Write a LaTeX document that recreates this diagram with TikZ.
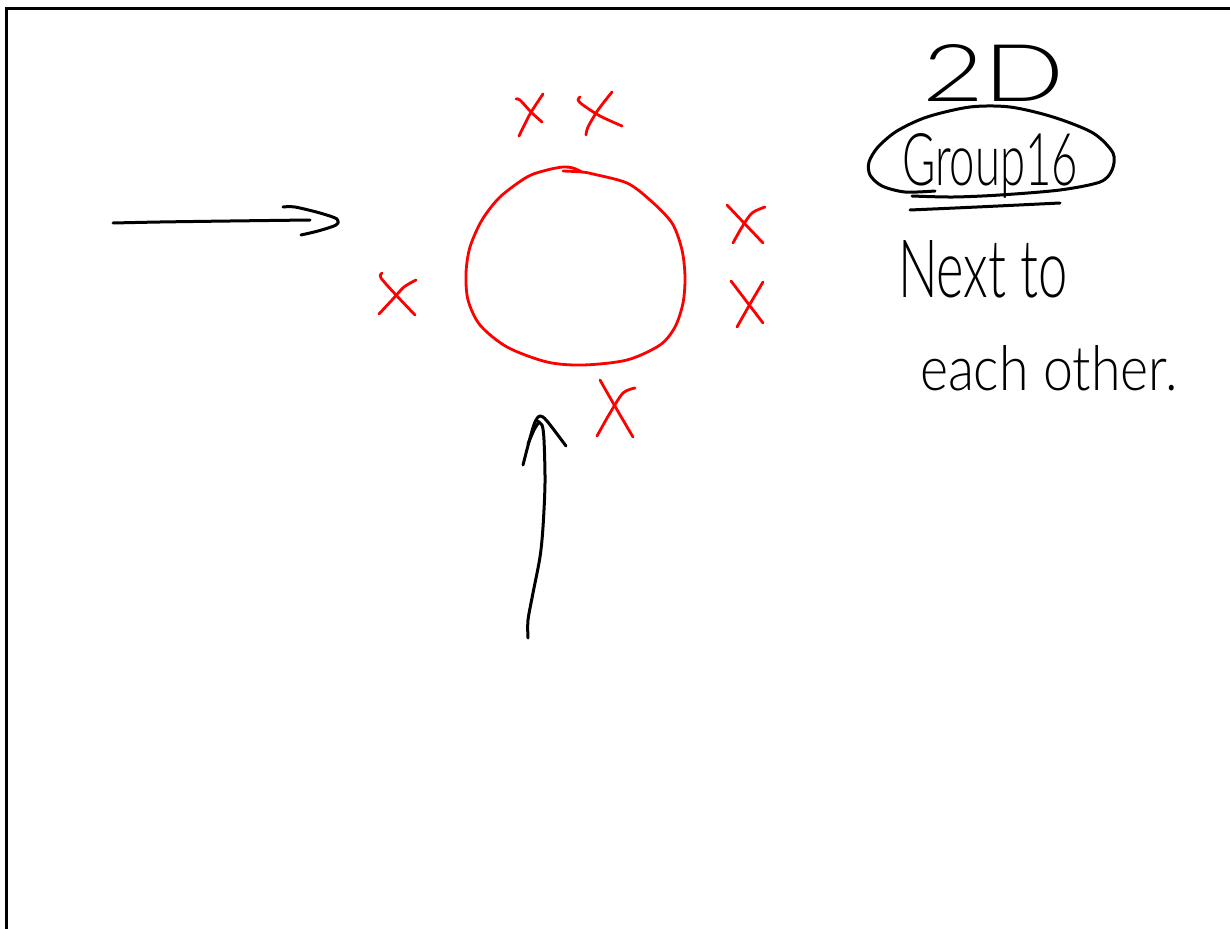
\documentclass[tikz,border=0pt]{standalone}
\usepackage{fontspec}
\usepackage{graphicx}
\newfontfamily\hand{Lato}[UprightFont=* Light]
\tikzset{
  pen/.style={line width=3pt, line cap=round, line join=round, black},
  redpen/.style={line width=2.8pt, line cap=round, line join=round, red},
  frame/.style={line width=3pt, black},
  handtext/.style={anchor=base west, inner sep=0pt, outer sep=0pt, font=\hand}
}
\begin{document}
\begin{tikzpicture}[x=1pt, y=-1pt]
\useasboundingbox (0,0) rectangle (1230,928);
\fill[white] (0,0) rectangle (1230,928);
% frame
\draw[frame] (6.5,930) -- (6.5,8.5) -- (1232,8.5);

% horizontal arrow
\draw[pen] plot[smooth] coordinates {(113,223) (160,222) (230,221) (310,220)};
\draw[pen] plot[smooth] coordinates {(283,207) (295,207) (320,213) (337,219) (336,225) (318,231) (301,235)};

% vertical arrow
\draw[pen] plot[smooth] coordinates {(528,638) (528,620) (533,593) (540,557) (543,527) (545,483) (544,440) (542,425) (537,421)};
\draw[pen] plot[smooth] coordinates {(523,465) (530,438) (535,422) (540,416) (547,421) (566,446)};
\draw[pen] plot[smooth] coordinates {(528,444) (534,430) (539,422)};

% red circle
\draw[redpen] plot[smooth] coordinates {(563,171) (582,172) (593,174) (627,183) (650,200) (672,223) (682,250) (685,277) (683,303) (675,327) (660,345) (627,360) (583,365) (547,362) (507,347) (480,325) (468,300) (466,273) (470,247) (482,220) (500,197) (527,177) (547,170) (563,167) (573,168) (582,172)};

% crosses
\draw[redpen] plot[smooth] coordinates {(516,99) (520,100) (531,112) (542,122)};
\draw[redpen] plot[smooth] coordinates {(543,94) (530,114) (519,136)};

\draw[redpen] plot[smooth] coordinates {(580,97) (578,100) (583,105) (600,116) (622,126)};
\draw[redpen] plot[smooth] coordinates {(612,92) (598,110) (588,127) (586,135)};

\draw[redpen] plot[smooth] coordinates {(727,205) (745,224) (763,243)};
\draw[redpen] plot[smooth] coordinates {(765,207) (752,213) (742,227) (733,243)};

\draw[redpen] plot[smooth] coordinates {(731,281) (747,302) (763,323)};
\draw[redpen] plot[smooth] coordinates {(763,282) (750,304) (737,327)};

\draw[redpen] plot[smooth] coordinates {(382,273) (381,278) (397,296) (415,315)};
\draw[redpen] plot[smooth] coordinates {(416,280) (404,287) (392,300) (379,314)};

\draw[redpen] plot[smooth] coordinates {(600,380) (616,408) (633,437)};
\draw[redpen] plot[smooth] coordinates {(635,388) (623,393) (610,413) (597,436)};

% texts
\node[handtext] (t2d) at (922,102) {\resizebox{143pt}{57pt}{2D}};
\node[handtext] (tgroup) at (902,185) {\resizebox{176pt}{52pt}{Group16}};
\node[handtext] (tnext) at (898,297) {\resizebox{170pt}{57pt}{Next to}};
\node[handtext] (teach) at (920,390) {\resizebox{258pt}{45pt}{each other.}};

% ellipse around Group16
\draw[pen] plot[smooth] coordinates {(935,191) (905,192) (882,186) (870,175) (869,162) (878,147) (897,131) (927,117) (970,107) (1010,107) (1053,117) (1093,133) (1113,153) (1112,170) (1100,182) (1060,190) (1000,195) (953,197) (912,196)};
% underline
\draw[pen] plot[smooth] coordinates {(910,210) (977,207) (1060,203)};
\end{tikzpicture}
\end{document}
